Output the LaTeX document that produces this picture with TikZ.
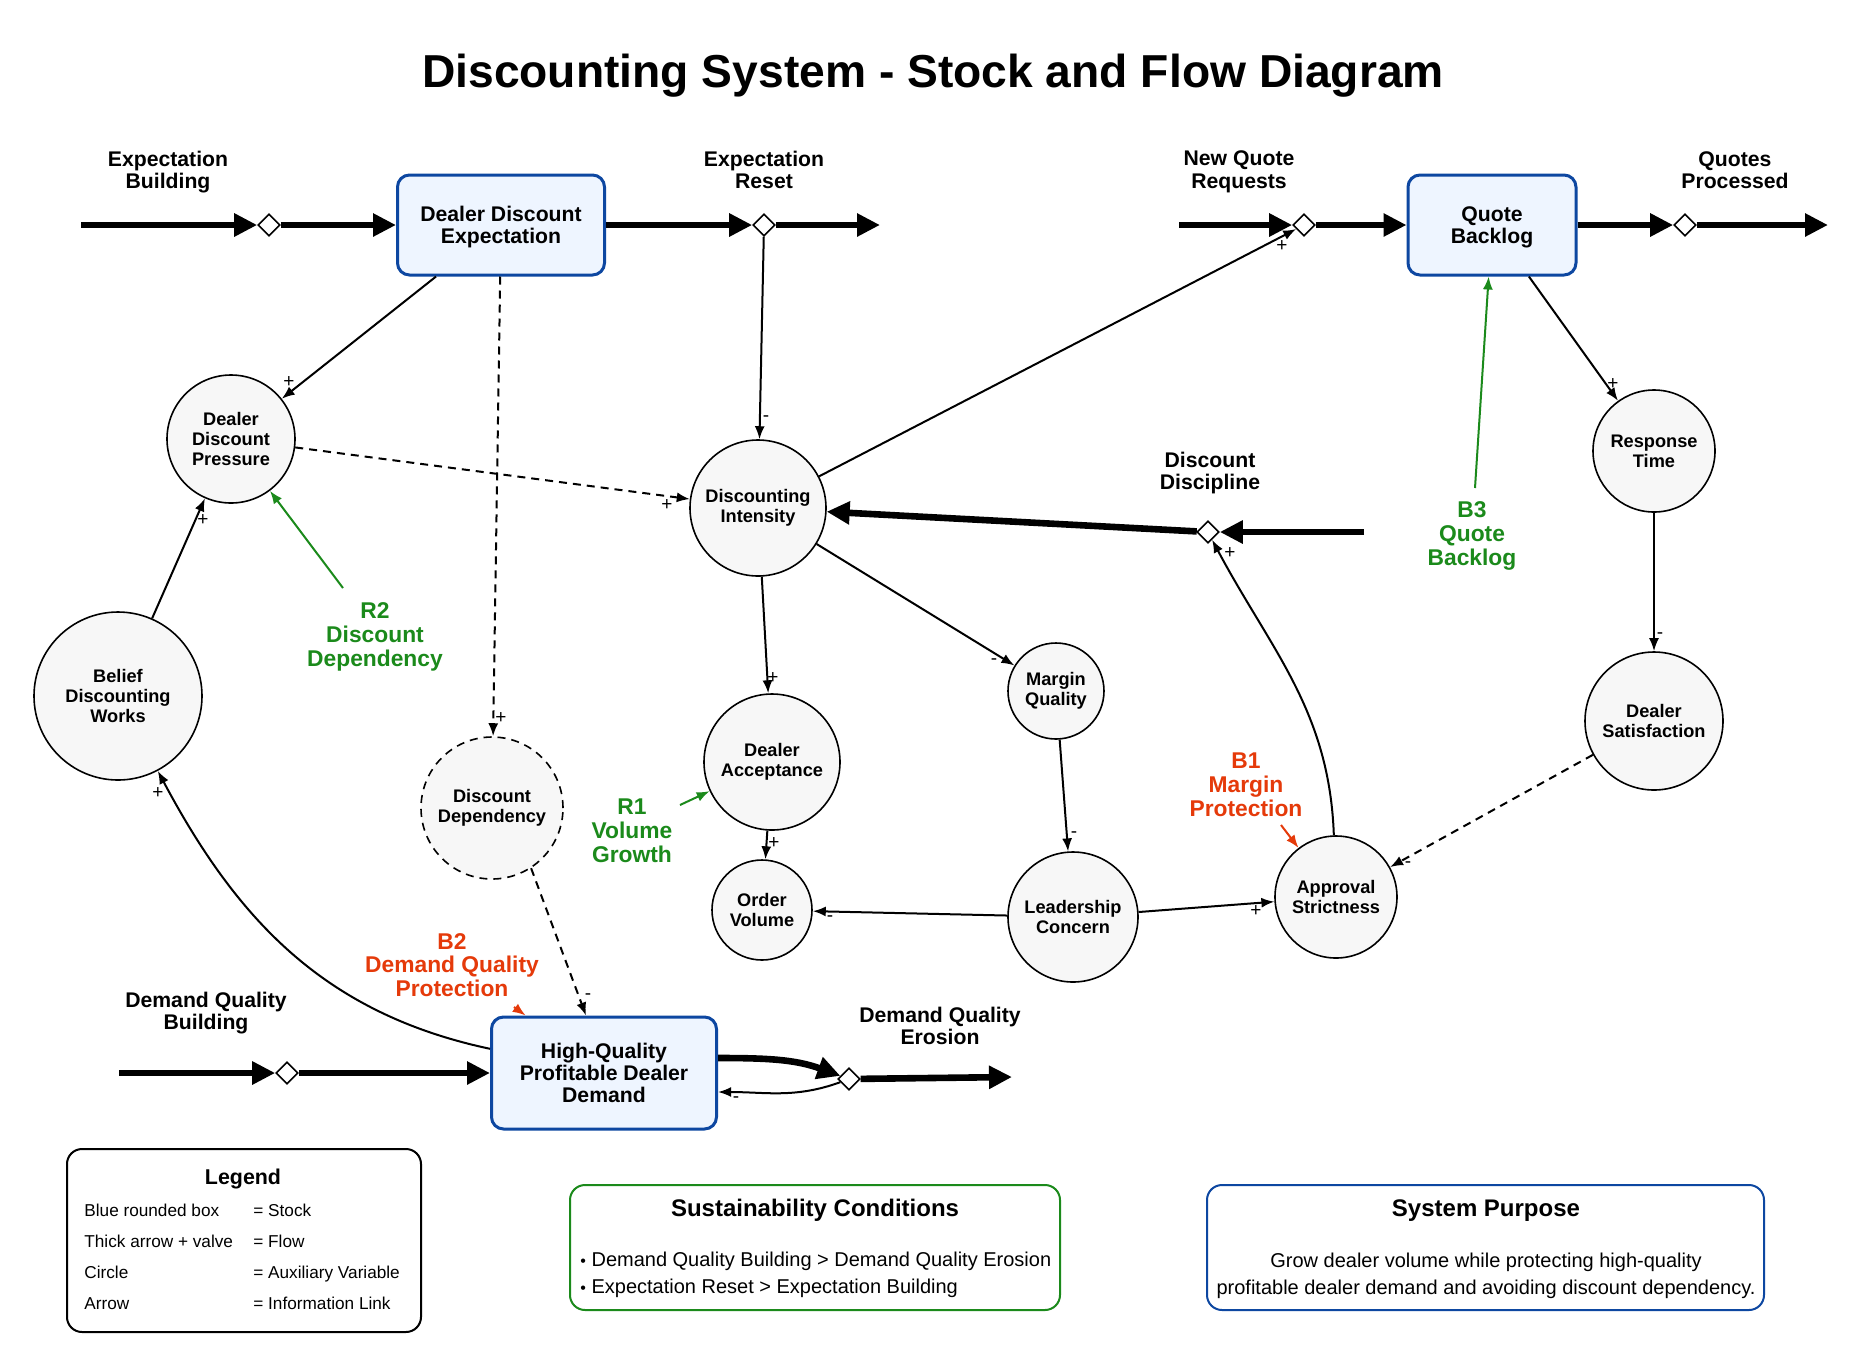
\documentclass[tikz,border=0pt]{standalone}
\usepackage{fontspec}
\setmainfont{Liberation Sans}
\usetikzlibrary{arrows.meta, shapes.geometric}

\definecolor{stockfill}{HTML}{EEF5FF}
\definecolor{stockline}{HTML}{0D47A1}
\definecolor{auxfill}{HTML}{F7F7F7}
\definecolor{loopgreen}{HTML}{1B8A1B}
\definecolor{loopred}{HTML}{E53A0A}

\begin{document}
\begin{tikzpicture}[x=0.5pt, y=-0.5pt,
  stock/.style={draw=stockline, line width=1.5pt, fill=stockfill, rounded corners=6pt, align=center, inner sep=0pt, text depth=0pt, font=\fontsize{10.6}{11}\selectfont\bfseries},
  aux/.style={circle, draw, line width=0.8pt, fill=auxfill, align=center, inner sep=0pt, font=\fontsize{9.1}{10.1}\selectfont\bfseries},
  valve/.style={diamond, aspect=1, draw, line width=0.8pt, fill=white, minimum width=11pt, minimum height=11pt, inner sep=0pt},
  pipe/.style={line width=3.3pt, -{Triangle[length=11.5pt, width=11pt]}},
  link/.style={line width=1pt, -{Latex[length=6.5pt, width=5pt]}},
  dashlink/.style={dash pattern=on 4pt off 3pt},
  flowlabel/.style={align=center, inner sep=0pt, font=\fontsize{10.6}{11.3}\selectfont\bfseries},
  looplabel/.style={align=center, inner sep=0pt, font=\fontsize{11.4}{11.9}\selectfont\bfseries},
  sign/.style={inner sep=0pt, font=\fontsize{9.5}{9.5}\selectfont},
  panel/.style={rounded corners=7.5pt, line width=1pt, inner sep=0pt},
]
\useasboundingbox (0,0) rectangle (1865,1367);
\fill[white] (0,0) rectangle (1865,1367);

\node[font=\fontsize{23.1}{27}\selectfont\bfseries] (title) at (933,76) {Discounting System - Stock and Flow Diagram};

% stocks
\node[stock, minimum width=103.5pt, minimum height=50pt] (dde) at (501,225) {Dealer Discount\\Expectation};
\node[stock, minimum width=84pt, minimum height=50pt] (qb) at (1492,225) {Quote\\Backlog};
\node[stock, minimum width=112.5pt, minimum height=56pt] (hq) at (604,1073) {High-Quality\\Profitable Dealer\\Demand};

% auxiliaries
\node[aux, minimum size=64pt] (press) at (231,439) {Dealer\\Discount\\Pressure};
\node[aux, minimum size=68pt] (intens) at (758,508) {Discounting\\Intensity};
\node[aux, minimum size=84pt] (belief) at (118,696) {Belief\\Discounting\\Works};
\node[aux, minimum size=71pt, dashlink] (depend) at (492,808) {Discount\\Dependency};
\node[aux, minimum size=68pt] (accept) at (772,762) {Dealer\\Acceptance};
\node[aux, minimum size=48pt] (margin) at (1056,691) {Margin\\Quality};
\node[aux, minimum size=50pt] (order) at (762,910) {Order\\Volume};
\node[aux, minimum size=65pt] (leader) at (1073,917) {Leadership\\Concern};
\node[aux, minimum size=61pt] (approv) at (1336,897) {Approval\\Strictness};
\node[aux, minimum size=61pt] (resp) at (1654,451) {Response\\Time};
\node[aux, minimum size=69pt] (satis) at (1654,721) {Dealer\\Satisfaction};

% flows
\coordinate (sEB) at (81,225);
\coordinate (kER) at (880,225);
\coordinate (sNQ) at (1179,225);
\coordinate (kQP) at (1828,225);
\coordinate (sDD) at (1364,532);
\coordinate (sDB) at (119,1073);
\coordinate (kDE) at (1012,1077);

\node[valve] (vEB) at (269,225) {};
\node[valve] (vER) at (764,225) {};
\node[valve] (vNQ) at (1304,225) {};
\node[valve] (vQP) at (1685,225) {};
\node[valve] (vDD) at (1208,532) {};
\node[valve] (vDB) at (287,1073) {};
\node[valve] (vDE) at (849,1079) {};

\draw[pipe] (sEB) -- (vEB);
\draw[pipe] (vEB) -- (dde);
\draw[pipe] (dde) -- (vER);
\draw[pipe] (vER) -- (kER);
\draw[pipe] (sNQ) -- (vNQ);
\draw[pipe] (vNQ) -- (qb);
\draw[pipe] (qb) -- (vQP);
\draw[pipe] (vQP) -- (kQP);
\draw[pipe] (sDD) -- (vDD);
\draw[pipe] (vDD) -- (intens);
\draw[pipe] (sDB) -- (vDB);
\draw[pipe] (vDB) -- (hq);
\draw[pipe] ([yshift=7.5pt]hq.east) to[out=0, in=160] (vDE);
\draw[pipe] (vDE) -- (kDE);

\node[flowlabel] (lEB) at (168,172) {Expectation\\Building};
\node[flowlabel] (lER) at (764,170) {Expectation\\Reset};
\node[flowlabel] (lNQ) at (1239,172) {New Quote\\Requests};
\node[flowlabel] (lQP) at (1735,170) {Quotes\\Processed};
\node[flowlabel] (lDD) at (1210,473) {Discount\\Discipline};
\node[flowlabel] (lDB) at (206,1013) {Demand Quality\\Building};
\node[flowlabel] (lDE) at (940,1026) {Demand Quality\\Erosion};

% information links
\draw[link] (dde) -- (press);
\draw[link, dashlink] (dde) -- (depend);
\draw[link] (vER) -- (intens);
\draw[link, dashlink] (press) -- (intens);
\draw[link] (intens) -- (vNQ);
\draw[link] (intens) -- (accept);
\draw[link] (intens) -- (margin);
\draw[link] (margin) -- (leader);
\draw[link] (accept) -- (order);
\draw[link] (leader) -- (order);
\draw[link] (leader) -- (approv);
\draw[link] (approv) to[out=92, in=-62] (vDD);
\draw[link] (qb) -- (resp);
\draw[link] (resp) -- (satis);
\draw[link, dashlink] (satis) -- (approv);
\draw[link] (belief) -- (press);
\draw[link] (hq) to[out=168, in=-62] (belief);
\draw[link, dashlink] (depend.-57) -- ([xshift=-9pt]hq.north);
\draw[link] (vDE) to[out=200, in=0] ([yshift=-9.5pt]hq.east);

\node[sign] (g1) at (289,382) {+};
\node[sign] (g2) at (501,718) {+};
\node[sign] (g3) at (766,419) {-};
\node[sign] (g4) at (667,505) {+};
\node[sign] (g5) at (1282,246) {+};
\node[sign] (g6) at (773,678) {+};
\node[sign] (g7) at (994,662) {-};
\node[sign] (g8) at (1074,835) {-};
\node[sign] (g9) at (774,843) {+};
\node[sign] (g10) at (830,919) {-};
\node[sign] (g11) at (1256,911) {+};
\node[sign] (g12) at (1230,553) {+};
\node[sign] (g13) at (1613,384) {+};
\node[sign] (g14) at (1660,636) {-};
\node[sign] (g15) at (1408,865) {-};
\node[sign] (g16) at (203,520) {+};
\node[sign] (g17) at (158,793) {+};
\node[sign] (g18) at (588,997) {-};
\node[sign] (g19) at (736,1100) {-};

% loop markers
\node[looplabel, text=loopgreen] (r2) at (375,637) {R2\\Discount\\Dependency};
\node[looplabel, text=loopgreen] (r1) at (632,831) {R1\\Volume\\Growth};
\node[looplabel, text=loopgreen] (b3) at (1472,536) {B3\\Quote\\Backlog};
\node[looplabel, text=loopred] (b1) at (1246,785) {B1\\Margin\\Protection};
\node[looplabel, text=loopred] (b2) at (452,965) {B2\\Demand Quality\\Protection};
\coordinate (r2tail) at (343,588);
\coordinate (r1tail) at (680,805);
\coordinate (b3tail) at (1475,488);
\coordinate (b1tail) at (1281,825);
\coordinate (b2tail) at (514,1007);
\draw[link, loopgreen] (r2tail) -- (press);
\draw[link, loopgreen] (r1tail) -- (accept);
\draw[link, loopgreen] (b3tail) -- (qb);
\draw[link, loopred] (b1tail) -- (approv);
\draw[link, loopred] (b2tail) -- (hq);

% panels
\node[panel, draw=black, minimum width=177pt, minimum height=91.5pt] (legend) at (244,1240.5) {};
\node[font=\fontsize{10.7}{12}\selectfont\bfseries] (legtitle) at (243,1179) {Legend};
\node[anchor=west, align=left, inner sep=0pt, font=\fontsize{8.6}{15.5}\selectfont] (legkeys) at (84,1256.5) {Blue rounded box\\Thick arrow + valve\\Circle\\Arrow};
\node[anchor=west, align=left, inner sep=0pt, font=\fontsize{8.6}{15.5}\selectfont] (legvals) at (253,1256.5) {= Stock\\= Flow\\= Auxiliary Variable\\= Information Link};

\node[panel, draw=loopgreen, minimum width=245pt, minimum height=62.5pt] (sustain) at (815,1247.5) {};
\node[font=\fontsize{12}{14}\selectfont\bfseries] (sustitle) at (815,1210) {Sustainability Conditions};
\node[anchor=west, align=left, inner sep=0pt, font=\fontsize{10}{13.5}\selectfont] (susrules) at (580,1274.5) {{\fontsize{8}{13.5}\selectfont•} Demand Quality Building > Demand Quality Erosion\\{\fontsize{8}{13.5}\selectfont•} Expectation Reset > Expectation Building};

\node[panel, draw=stockline, minimum width=278.5pt, minimum height=62.5pt] (purpose) at (1485.5,1247.5) {};
\node[font=\fontsize{12}{14}\selectfont\bfseries] (purtitle) at (1486,1211) {System Purpose};
\node[align=center, inner sep=0pt, font=\fontsize{10}{13.5}\selectfont] (purtext) at (1486,1275.5) {Grow dealer volume while protecting high-quality\\profitable dealer demand and avoiding discount dependency.};

\end{tikzpicture}
\end{document}
